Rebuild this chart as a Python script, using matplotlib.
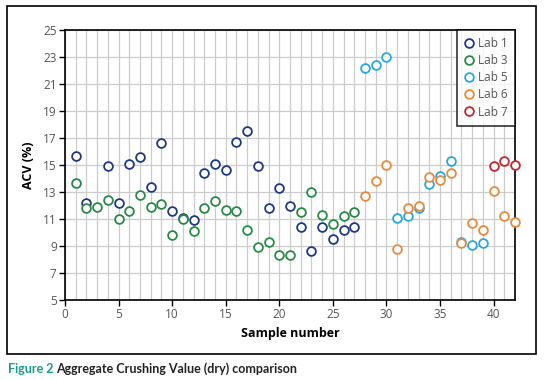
import matplotlib
matplotlib.use("Agg")
import matplotlib.pyplot as plt
from matplotlib.patches import Rectangle
from matplotlib.ticker import MultipleLocator

plt.rcParams['font.family'] = ['Open Sans', 'DejaVu Sans']

lab1_x = [1, 2, 4, 5, 6, 7, 8, 9, 10, 11, 12, 13, 14, 15, 16, 17, 18, 19, 20, 21, 22, 23, 24, 25, 26, 27]
lab1_y = [15.7, 12.2, 14.9, 12.2, 15.1, 15.6, 13.4, 16.6, 11.6, 11.1, 10.9, 14.4, 15.1, 14.6, 16.7, 17.5, 14.9, 11.8, 13.3, 12.0, 10.4, 8.6, 10.4, 9.5, 10.2, 10.4]

lab3_x = [1, 2, 3, 4, 5, 6, 7, 8, 9, 10, 11, 12, 13, 14, 15, 16, 17, 18, 19, 20, 21, 22, 23, 24, 25, 26, 27]
lab3_y = [13.7, 11.8, 11.9, 12.4, 11.0, 11.6, 12.8, 11.9, 12.1, 9.8, 11.0, 10.1, 11.8, 12.3, 11.7, 11.6, 10.2, 8.9, 9.3, 8.3, 8.3, 11.5, 13.0, 11.3, 10.6, 11.2, 11.5]

lab5_x = [28, 29, 30, 31, 32, 33, 34, 35, 36, 37, 38, 39]
lab5_y = [22.2, 22.4, 23.0, 11.1, 11.2, 11.8, 13.6, 14.2, 15.3, 9.3, 9.1, 9.2]

lab6_x = [28, 29, 30, 31, 32, 33, 34, 35, 36, 37, 38, 39, 40, 41, 42]
lab6_y = [12.7, 13.8, 15.0, 8.8, 11.8, 12.0, 14.1, 13.9, 14.4, 9.2, 10.7, 10.2, 13.1, 11.2, 10.8]

lab7_x = [40, 41, 42]
lab7_y = [14.9, 15.3, 15.0]

y_ticks = [5, 7, 9, 11, 13, 15, 17, 19, 21, 23, 25]

series = [
    ("Lab 1", lab1_x, lab1_y, "#1d3a80"),
    ("Lab 3", lab3_x, lab3_y, "#2a8a45"),
    ("Lab 5", lab5_x, lab5_y, "#2aa6dc"),
    ("Lab 6", lab6_x, lab6_y, "#e88a3c"),
    ("Lab 7", lab7_x, lab7_y, "#c0282e"),
]

W, H = 548, 380
fig = plt.figure(figsize=(W / 100, H / 100), dpi=100)
ax = fig.add_axes([65 / W, 1 - 300 / H, (515 - 65) / W, (300 - 30) / H])

for name, xs, ys, c in series:
    ax.plot(xs, ys, linestyle='none', marker='o', markersize=6.3,
            markerfacecolor='white', markeredgecolor=c, markeredgewidth=1.3,
            label=name, zorder=3, clip_on=False)

ax.set_xlim(0, 42)
ax.set_ylim(5, 25)
ax.xaxis.set_major_locator(MultipleLocator(5))
ax.xaxis.set_minor_locator(MultipleLocator(1))
ax.set_yticks(y_ticks)
ax.grid(True, which='major', axis='y', color='#cccccc', linewidth=0.9)
ax.grid(True, which='minor', axis='x', color='#cccccc', linewidth=0.9)
ax.grid(True, which='major', axis='x', color='#cccccc', linewidth=0.9)
ax.set_axisbelow(True)
ax.tick_params(which='minor', length=0)
ax.tick_params(which='major', length=4, width=1, color='black', labelsize=8.5,
               labelcolor='#555555', direction='out', pad=2)
for s in ax.spines.values():
    s.set_color('black')
    s.set_linewidth(1.2)

ax.set_xlabel("Sample number", fontsize=9, fontweight='bold', labelpad=4)
ax.set_ylabel("ACV (%)", fontsize=9, fontweight='bold', labelpad=6)

leg = ax.legend(loc='upper right', fontsize=8.5, frameon=True, fancybox=False,
                edgecolor='black', borderaxespad=0, handlelength=0.8,
                handletextpad=0.4, labelspacing=0.35, borderpad=0.6)
leg.get_frame().set_linewidth(1.2)
leg.set_zorder(5)
for t in leg.get_texts():
    t.set_color('#555555')

fig.patches.append(Rectangle((7 / W, 1 - 354 / H), (536 - 7) / W, (354 - 6) / H,
                             transform=fig.transFigure, fill=False,
                             edgecolor='black', linewidth=1.2))

t1 = fig.text(8 / W, 1 - 369 / H, "Figure 2", color='#1a9a8c', fontsize=9,
              fontweight='bold', va='center', ha='left', family=['Lato', 'DejaVu Sans'])
fig.canvas.draw()
bb = t1.get_window_extent()
fig.text((bb.x1 + 3) / W, 1 - 369 / H, "Aggregate Crushing Value (dry) comparison",
         color='#222222', fontsize=9, fontweight='bold', va='center', ha='left',
         family=['Lato', 'DejaVu Sans'])

fig.savefig("out.png", dpi=100)
